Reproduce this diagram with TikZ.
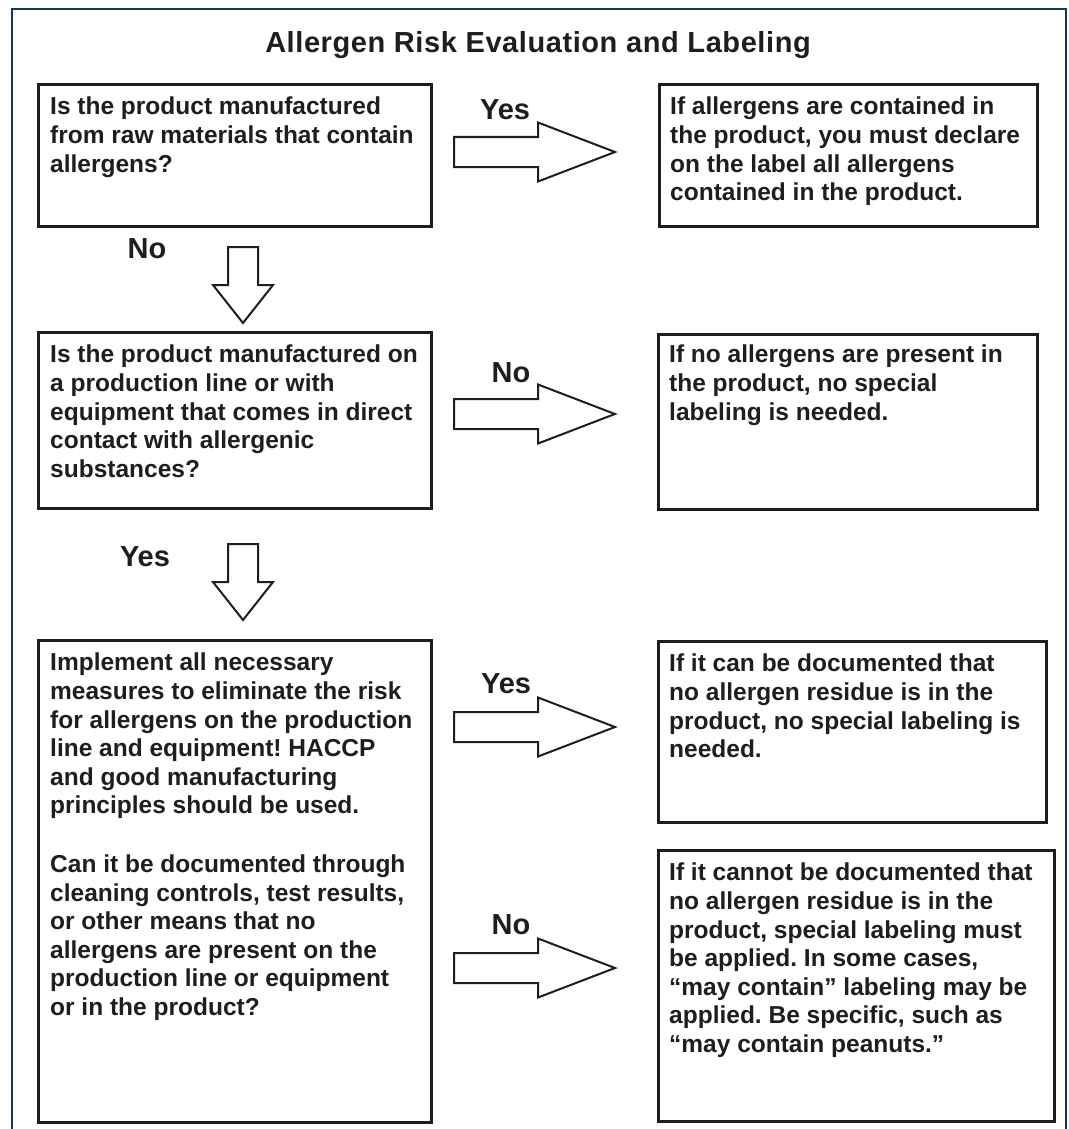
\documentclass[tikz,border=0pt]{standalone}
\usepackage{fontspec}
\setmainfont{Liberation Sans}
\newfontfamily\titlefont[LetterSpace=2]{Liberation Sans}
\definecolor{framecol}{HTML}{17365D}
\definecolor{inkcol}{HTML}{1E1E1E}
\frenchspacing
\newcommand\blockright[2]{% #1 = start x, #2 = centre y
  \draw[barrow] (#1,#2-15) -- (#1+84,#2-15) -- (#1+84,#2-29.5) -- (#1+161,#2)
    -- (#1+84,#2+29.5) -- (#1+84,#2+15) -- (#1,#2+15) -- cycle;}
\newcommand\blockdown[2]{% #1 = centre x, #2 = top y
  \draw[barrow] (#1-15,#2) -- (#1+15,#2) -- (#1+15,#2+38) -- (#1+30,#2+38)
    -- (#1,#2+76) -- (#1-30,#2+38) -- (#1-15,#2+38) -- cycle;}
\begin{document}
\frenchspacing
\begin{tikzpicture}[x=1pt,y=-1pt,
  box/.style={draw=inkcol, line width=3pt, anchor=north west, inner sep=0pt, fill=white},
  txt/.style={anchor=north west, inner sep=0pt, align=left, text=inkcol,
    font=\fontsize{24.5}{28.6}\selectfont\bfseries\frenchspacing},
  lbl/.style={inner sep=0pt, text=inkcol, font=\fontsize{29}{32}\selectfont\bfseries},
  barrow/.style={draw=inkcol, line width=2pt, fill=white, line join=miter}]
\useasboundingbox (0,0) rectangle (1068,1129);
\fill[white] (0,0) rectangle (1068,1129);
\draw[framecol, line width=2.5pt] (12,1140) -- (12,9) -- (1066,9) -- (1066,1140);

\node[anchor=base, inner sep=0pt, text=inkcol, font=\fontsize{29}{32}\selectfont\titlefont\bfseries] (title) at (538,53)
  {Allergen Risk Evaluation and Labeling};

% left column boxes
\node[box, minimum width=393pt, minimum height=142pt] (b1) at (37,83) {};
\node[box, minimum width=393pt, minimum height=176pt] (b3) at (37,331) {};
\node[box, minimum width=393pt, minimum height=482pt] (b5) at (37,639) {};
% right column boxes
\node[box, minimum width=378pt, minimum height=142pt] (b2) at (658,83) {};
\node[box, minimum width=379pt, minimum height=175pt] (b4) at (657,333) {};
\node[box, minimum width=388pt, minimum height=181pt] (b6) at (657,640) {};
\node[box, minimum width=396pt, minimum height=271pt] (b7) at (657,849) {};

% texts
\node[txt] (t1) at ([shift={(13,14)}]b1.north west)
  {Is the product manufactured\\from raw materials that contain\\allergens?};
\node[txt] (t3) at ([shift={(13,14)}]b3.north west)
  {Is the product manufactured on\\a production line or with\\equipment that comes in direct\\contact with allergenic\\substances?};
\node[txt] (t5) at ([shift={(13,14)}]b5.north west)
  {Implement all necessary\\measures to eliminate the risk\\for allergens on the production\\line and equipment! HACCP\\and good manufacturing\\principles should be used.\\[30pt]Can it be documented through\\cleaning controls, test results,\\or other means that no\\allergens are present on the\\production line or equipment\\or in the product?};
\node[txt] (t2) at ([shift={(12,14)}]b2.north west)
  {If allergens are contained in\\the product, you must declare\\on the label all allergens\\contained in the product.};
\node[txt] (t4) at ([shift={(12,12)}]b4.north west)
  {If no allergens are present in\\the product, no special\\labeling is needed.};
\node[txt] (t6) at ([shift={(12,14)}]b6.north west)
  {If it can be documented that\\no allergen residue is in the\\product, no special labeling is\\needed.};
\node[txt] (t7) at ([shift={(12,14)}]b7.north west)
  {If it cannot be documented that\\no allergen residue is in the\\product, special labeling must\\be applied. In some cases,\\“may contain” labeling may be\\applied. Be specific, such as\\“may contain peanuts.”};

% block arrows
\blockright{454}{152}
\blockright{454}{414}
\blockright{454}{727}
\blockright{454}{968}
\blockdown{243}{247}
\blockdown{243}{544}

% labels
\node[lbl] (l1) at (505,110) {Yes};
\node[lbl] (l2) at (511,373) {No};
\node[lbl] (l3) at (506,684) {Yes};
\node[lbl] (l4) at (511,925) {No};
\node[lbl] (l5) at (147,249) {No};
\node[lbl] (l6) at (145,557) {Yes};
\end{tikzpicture}
\end{document}
